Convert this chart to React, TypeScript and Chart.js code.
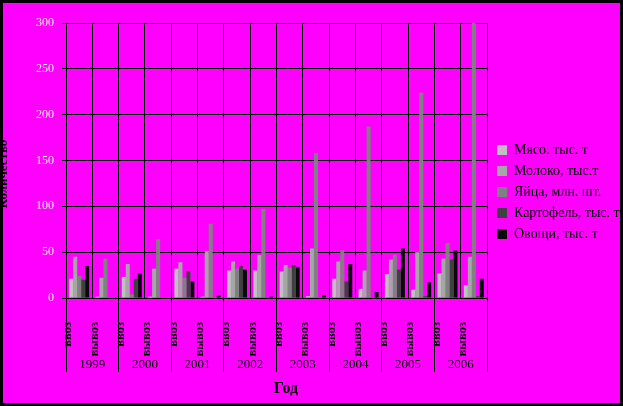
import React, { useEffect, useRef } from 'react';
import { Chart, registerables } from 'chart.js';

Chart.register(...registerables);

const years = ['1999', '2000', '2001', '2002', '2003', '2004', '2005', '2006'];
const flows = ['ввоз', 'вывоз'];
const categories = years.flatMap(() => flows);

const meat = [21, 1.5, 23, 1.5, 32, 1.5, 30, 30, 29, 2, 21, 10, 26, 9, 27, 14];
const milk = [45, 22, 37, 32, 39, 51, 40, 47, 36, 54, 40, 30, 42, 50, 43, 45];
const eggs = [24, 43, 4, 64, 22, 81, 32, 97, 33, 158, 52, 187, 47, 224, 60, 300];
const potato = [20, 0, 21, 0, 29, 0, 35, 0, 36, 0, 18, 0, 31, 2, 42, 2];
const vegetables = [35, 0, 27, 0, 18, 2.5, 31, 1.5, 34, 3, 37, 6.5, 54, 17, 52, 21];

const seriesNames = ['Мясо. тыс. т', 'Молоко, тыс.т', 'Яйца, млн. шт.', 'Картофель, тыс. т', 'Овощи, тыс. т'];
const seriesValues = [meat, milk, eggs, potato, vegetables];
const seriesColors = ['#c0c0c0', '#a6a6a6', '#808080', '#404040', '#0a0a0a'];

const yMin = 0;
const yMax = 300;
const yStep = 50;
const xTitle = 'Год';
const yTitle = 'Количество';

const W = 623;
const H = 406;

export default function App() {
  const ref = useRef<HTMLCanvasElement>(null);

  useEffect(() => {
    const canvas = ref.current;
    if (!canvas) return;

    const decor = {
      id: 'decor',
      beforeDraw(chart: any) {
        const ctx = chart.ctx;
        ctx.save();
        ctx.fillStyle = '#ff00ff';
        ctx.fillRect(0, 0, chart.width, chart.height);
        ctx.restore();
      },
      afterLayout(chart: any) {
        if (chart.legend) {
          chart.legend.top -= 22.5;
          chart.legend.bottom -= 22.5;
        }
      },
      afterDraw(chart: any) {
        const ctx = chart.ctx;
        const xs = chart.scales.x;
        const area = chart.chartArea;
        const half = (xs.getPixelForValue(1) - xs.getPixelForValue(0)) / 2;
        ctx.save();
        ctx.strokeStyle = '#000';
        ctx.lineWidth = 1;
        const bounds: number[] = [];
        for (let g = 0; g <= years.length; g++) {
          const idx = g * flows.length;
          const px = idx < categories.length ? xs.getPixelForValue(idx) - half : xs.getPixelForValue(idx - 1) + half;
          bounds.push(px);
          const ax = Math.floor(px) + 0.5;
          ctx.beginPath();
          ctx.moveTo(ax, area.bottom);
          ctx.lineTo(ax, 372);
          ctx.stroke();
        }
        ctx.fillStyle = '#000';
        ctx.font = '13px "Liberation Serif"';
        ctx.textAlign = 'center';
        ctx.textBaseline = 'middle';
        years.forEach((y, i) => {
          ctx.fillText(y, (bounds[i] + bounds[i + 1]) / 2, 365);
        });
        ctx.font = 'bold 16px "Liberation Serif"';
        ctx.fillText(xTitle, 286, 389);

        ctx.save();
        ctx.translate(7, 174);
        ctx.rotate(-Math.PI / 2);
        ctx.font = 'bold 13px "Liberation Serif"';
        ctx.textAlign = 'center';
        ctx.textBaseline = 'alphabetic';
        ctx.fillText(yTitle, 0, 0);
        ctx.restore();

        ctx.fillStyle = '#000';
        ctx.fillRect(0, 0, chart.width, 3);
        ctx.fillRect(0, 0, 3, chart.height);
        ctx.fillRect(chart.width - 3, 0, 3, chart.height);
        ctx.fillRect(0, chart.height - 3, chart.width, 3);
        ctx.restore();
      },
    };

    const chart = new Chart(canvas, {
      type: 'bar',
      data: {
        labels: categories,
        datasets: seriesNames.map((name, i) => ({
          label: name,
          data: seriesValues[i],
          backgroundColor: seriesColors[i],
          borderWidth: 0,
          categoryPercentage: 0.76,
          barPercentage: 1.0,
        })),
      },
      options: {
        responsive: false,
        animation: false,
        devicePixelRatio: 1,
        layout: { padding: { top: 23, left: 0, right: 0, bottom: 0 } },
        plugins: {
          tooltip: { enabled: false },
          legend: {
            position: 'right',
            maxWidth: 133,
            labels: {
              boxWidth: 10,
              boxHeight: 10,
              padding: 7,
              color: '#000',
              font: { family: '"Liberation Serif"', size: 14 },
            },
          },
        },
        scales: {
          x: {
            grid: { color: '#000', lineWidth: 1, drawTicks: false, offset: true },
            border: { display: true, color: '#000' },
            ticks: {
              autoSkip: false,
              minRotation: 90,
              maxRotation: 90,
              padding: 24,
              labelOffset: -11,
              color: '#000',
              font: { family: '"Liberation Serif"', size: 12.5, weight: 'bold' },
            },
            afterFit(s: any) {
              s.height = 108;
            },
          },
          y: {
            min: yMin,
            max: yMax,
            grid: { color: '#000', lineWidth: 1, drawTicks: true, tickLength: 4, tickColor: '#000' },
            border: { display: true, color: '#000' },
            ticks: {
              stepSize: yStep,
              padding: 8,
              color: '#eeeeee',
              font: { family: '"Liberation Serif"', size: 12 },
            },
            afterFit(s: any) {
              s.width = 66;
            },
          },
          spacer: {
            type: 'linear',
            position: 'right',
            display: true,
            grid: { display: false },
            ticks: { display: false },
            border: { display: false },
            afterFit(s: any) {
              s.width = 3;
            },
          },
        },
      } as any,
      plugins: [decor],
    });

    return () => chart.destroy();
  }, []);

  return (
    <div style={{ position: 'absolute', left: 0, top: 0, width: W, height: H }}>
      <canvas ref={ref} width={W} height={H} style={{ display: 'block' }} />
    </div>
  );
}
